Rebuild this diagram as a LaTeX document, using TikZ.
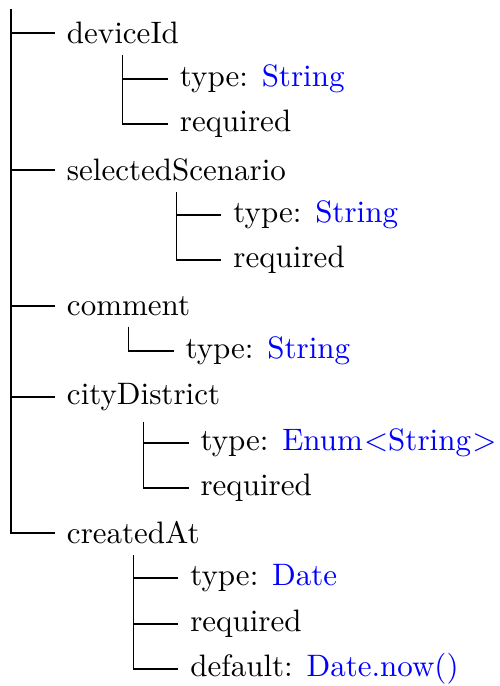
\documentclass[tikz,border=0pt]{standalone}
\usetikzlibrary{calc}
\begin{document}
\begin{tikzpicture}[x=0.3226pt,y=-0.3226pt,
  item/.style={anchor=west,inner xsep=3.87pt,inner ysep=0pt,outer sep=0pt},
  branch/.style={line width=0.33pt,black},
  val/.style={text=blue}]
\useasboundingbox (0,0) rectangle (499,686);
\coordinate (root) at (11,9);
% level 1
\node[item] (n1) at (55,33)  {deviceId};
\node[item] (n2) at (55,170) {selectedScenario};
\node[item] (n3) at (55,306) {comment};
\node[item] (n4) at (55,397) {cityDistrict};
\node[item] (n5) at (55,533) {createdAt};
\foreach \n in {n1,n2,n3,n4,n5}{\draw[branch] (root) |- (\n.west);}
% deviceId
\node[item] (n1a) at ($(n1.center |- 0,79)+(45,0)$) {type: \textcolor{blue}{String}};
\node[item] (n1b) at ($(n1.center |- 0,124)+(45,0)$) {required};
\coordinate (v1) at ($(n1.south)+(0,11)$);
\draw[branch] (v1) |- (n1a.west);
\draw[branch] (v1) |- (n1b.west);
% selectedScenario
\node[item] (n2a) at ($(n2.center |- 0,215)+(45,0)$) {type: \textcolor{blue}{String}};
\node[item] (n2b) at ($(n2.center |- 0,260)+(45,0)$) {required};
\coordinate (v2) at ($(n2.south)+(0,11)$);
\draw[branch] (v2) |- (n2a.west);
\draw[branch] (v2) |- (n2b.west);
% comment
\node[item] (n3a) at ($(n3.center |- 0,351)+(45,0)$) {type: \textcolor{blue}{String}};
\coordinate (v3) at ($(n3.south)+(0,11)$);
\draw[branch] (v3) |- (n3a.west);
% cityDistrict
\node[item] (n4a) at ($(n4.center |- 0,443)+(45,0)$) {type: \textcolor{blue}{Enum\kern0.4pt<String\kern0.4pt>}};
\node[item] (n4b) at ($(n4.center |- 0,488)+(45,0)$) {required};
\coordinate (v4) at ($(n4.south)+(0,11)$);
\draw[branch] (v4) |- (n4a.west);
\draw[branch] (v4) |- (n4b.west);
% createdAt
\node[item] (n5a) at ($(n5.center |- 0,578)+(45,0)$) {type: \textcolor{blue}{Date}};
\node[item] (n5b) at ($(n5.center |- 0,624)+(45,0)$) {required};
\node[item] (n5c) at ($(n5.center |- 0,669)+(45,0)$) {default: \textcolor{blue}{Date.now()}};
\coordinate (v5) at ($(n5.south)+(0,11)$);
\draw[branch] (v5) |- (n5a.west);
\draw[branch] (v5) |- (n5b.west);
\draw[branch] (v5) |- (n5c.west);
\end{tikzpicture}
\end{document}
